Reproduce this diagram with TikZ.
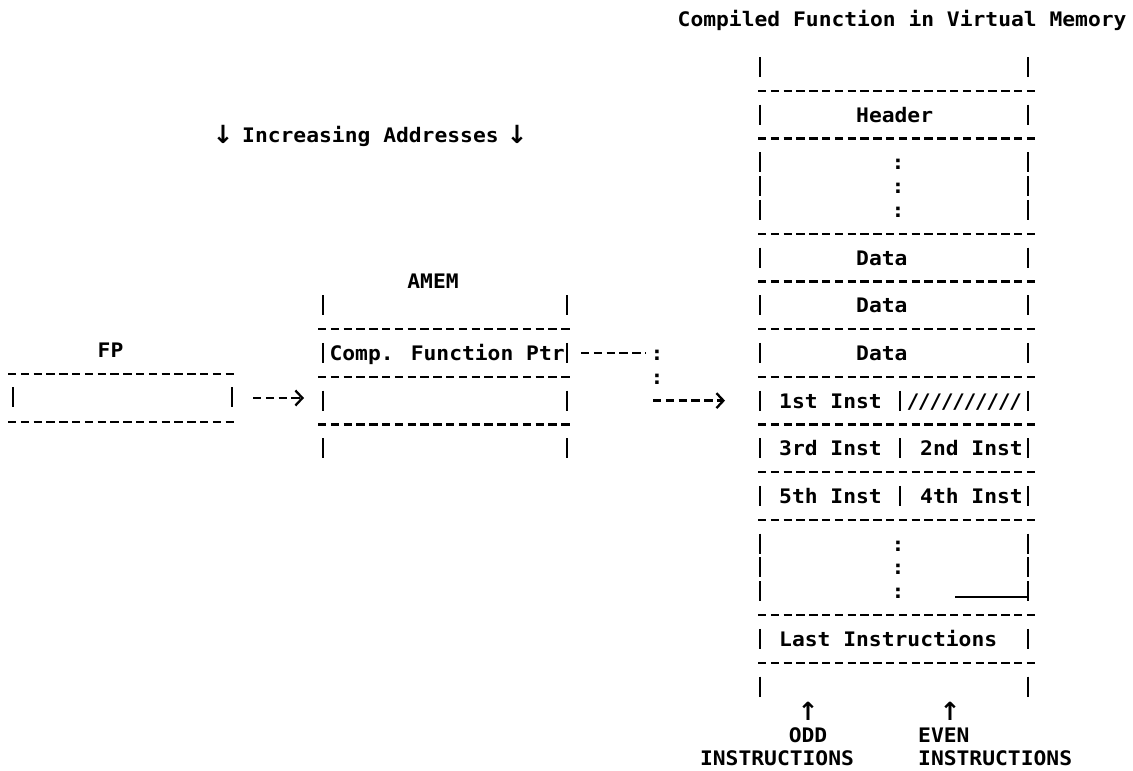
\documentclass[tikz,border=0pt]{standalone}
\usepackage{fontspec}
\usetikzlibrary{arrows.meta}
\newfontfamily\monof{DejaVu Sans Mono}[FakeStretch=1.065]
\newfontfamily\arrf{DejaVu Sans}
\newcommand\ry[1]{67+23.83*(#1)}
\begin{document}
\begin{tikzpicture}[x=1pt,y=-1pt,
  txt/.style={inner sep=0pt, anchor=base west, font={\monof\bfseries\fontsize{20}{22}\selectfont}},
  ctxt/.style={txt, anchor=base},
  arr/.style={inner sep=0pt, anchor=base, font={\arrf\bfseries\fontsize{25}{26}\selectfont}},
  dashline/.style={line width=2.3pt, dash pattern=on 8.4pt off 4.4pt},
  bar/.style={line width=2.5pt},
  conn/.style={dashline, -{Straight Barb[length=7pt,width=15pt,line width=2.3pt]}},
]
\useasboundingbox[fill=white] (0,0) rectangle (1133,771);

% ---------- Title and notes ----------
\node[txt] (title) at (677.5,26.8) {Compiled Function in Virtual Memory};
\node[arr] (da1) at (223,143) {↓};
\node[txt] (incr) at (242,142) {Increasing Addresses};
\node[arr] (da2) at (517,143) {↓};

% ---------- Compiled function box ----------
\foreach \n in {1,3,7,9,11,13,15,17,19,23,25}
  \draw[dashline] (758,{\ry{\n}}) -- (1035,{\ry{\n}});
\foreach \n in {0,2,4,5,6,8,10,12,14,16,18,20,21,22,24,26} {
  \draw[bar] (760,{\ry{\n}-10}) -- (760,{\ry{\n}+10});
  \draw[bar] (1028,{\ry{\n}-10}) -- (1028,{\ry{\n}+10});
}
\foreach \n in {14,16,18}
  \draw[bar] (900,{\ry{\n}-10}) -- (900,{\ry{\n}+10});

\node[txt] (header) at (856,{\ry{2}+7.5}) {Header};
\foreach \n/\nm in {4/c1,5/c2,6/c3,20/c4,21/c5,22/c6}
  \node[ctxt] (\nm) at (898,{\ry{\n}+7.5}) {:};
\node[txt] (data1) at (856,{\ry{8}+7.5}) {Data};
\node[txt] (data2) at (856,{\ry{10}+7.5}) {Data};
\node[txt] (data3) at (856,{\ry{12}+7.5}) {Data};
\node[txt] (inst1) at (779,{\ry{14}+7.5}) {1st Inst};
\foreach \i in {0,...,9}
  \node[ctxt] (sl\i) at ({913+11.4*\i},{\ry{14}+7.5}) {/};
\node[txt] (inst3) at (779,{\ry{16}+7.5}) {3rd Inst};
\node[txt] (inst2) at (920,{\ry{16}+7.5}) {2nd Inst};
\node[txt] (inst5) at (779,{\ry{18}+7.5}) {5th Inst};
\node[txt] (inst4) at (920,{\ry{18}+7.5}) {4th Inst};
\draw[line width=1.6pt] (955,597) -- (1027,597);
\node[txt] (last) at (779,{\ry{24}+7.5}) {Last Instructions};

\node[arr] (upodd) at (808,720) {↑};
\node[arr] (upeven) at (950,720) {↑};
\node[ctxt] (odd) at (808,742) {ODD};
\node[txt] (even) at (918,742) {EVEN};
\node[ctxt] (oddins) at (777,765) {INSTRUCTIONS};
\node[txt] (evenins) at (918,765) {INSTRUCTIONS};

% ---------- FP ----------
\node[ctxt] (fp) at (110.5,357) {FP};
\draw[dashline] (8,374) -- (237,374);
\draw[dashline] (8,422) -- (237,422);
\draw[bar] (13,387) -- (13,407);
\draw[bar] (232,387) -- (232,407);

% ---------- AMEM ----------
\node[ctxt] (amem) at (433,288) {AMEM};
\foreach \n in {11,13,15}
  \draw[dashline] (318,{\ry{\n}}) -- (572,{\ry{\n}});
\foreach \n in {10,12,14,16} {
  \draw[bar] (323,{\ry{\n}-10}) -- (323,{\ry{\n}+10});
  \draw[bar] (567,{\ry{\n}-10}) -- (567,{\ry{\n}+10});
}
\node[txt] (ptr) at (329.4,{\ry{12}+7.5}) {Comp. Function Ptr};

% ---------- Connectors ----------
\coordinate (fpout) at (253,398);
\coordinate (amemin) at (304,398);
\draw[conn] (fpout) -- (amemin);

\coordinate (ptrout) at (581,{\ry{12}});
\coordinate (bend) at (646,{\ry{12}});
\draw[dashline] (ptrout) -- (bend);
\node[ctxt] (k1) at (657,{\ry{12}+7.5}) {:};
\node[ctxt] (k2) at (657,{\ry{13}+7.5}) {:};
\coordinate (turn) at (653,{\ry{14}});
\coordinate (instin) at (725,{\ry{14}});
\draw[conn] (turn) -- (instin);
\end{tikzpicture}
\end{document}
